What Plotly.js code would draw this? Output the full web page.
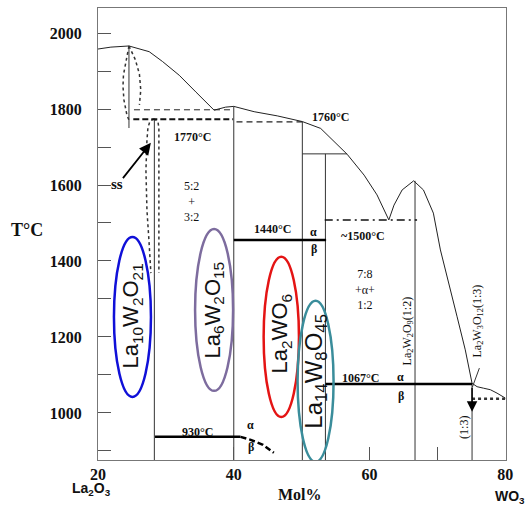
<!DOCTYPE html>
<html>
<head>
<meta charset="utf-8">
<script src="https://cdn.plot.ly/plotly-3.0.1.min.js"></script>
<style>html,body{margin:0;padding:0;background:#fff;}#chart{width:526px;height:509px;}</style>
</head>
<body>
<div id="chart"></div>
<script>
// ---- Data (X = mol% WO3, T = °C) ----
const liqLeftX = [20, 21.9, 24.56, 27.54, 29.51, 31.96, 34.41, 37.1, 38.8, 40, 43, 46.4, 50.1, 52.8, 56.7, 59.2, 61.1, 62.84];
const liqLeftT = [1958, 1963, 1966, 1951, 1925, 1889, 1845, 1797, 1805, 1807, 1793, 1782, 1767, 1749, 1681, 1626, 1574, 1508];
const liqRightX = [62.84, 63.6, 64.8, 66.5, 67.94, 69.4, 70.44, 71.6, 72.9, 74.1, 75.1];
const liqRightT = [1508, 1547, 1587, 1611, 1587, 1526, 1429, 1342, 1253, 1166, 1078];
const tailX = [75.1, 75.84, 76.8, 77.8, 78.78, 79.5, 80.0];
const tailT = [1078, 1069, 1065, 1061, 1052, 1043, 1039];

// dotted lens near 25 mol%
const lensAX = [24.56, 24.1, 23.75, 23.68, 23.82, 24.26, 24.56];
const lensAT = [1966, 1925, 1890, 1860, 1824, 1784, 1771];
const lensA2X = [24.56, 25.5, 26.1, 26.3, 26.1];
const lensA2T = [1966, 1930, 1892, 1850, 1811];
// dotted lens of the ss phase near 28 mol%
const lensBLX = [28.24, 27.65, 27.35, 27.21, 27.06, 27.21, 27.5, 27.79];
const lensBLT = [1774, 1768, 1750, 1718, 1639, 1534, 1455, 1368];
const lensBRX = [28.24, 28.82, 28.97, 28.97, 28.97];
const lensBRT = [1774, 1768, 1750, 1534, 1368];

// vertical phase lines [x, Ttop, Tbottom]
const vertX = [24.56, 28.3, 40, 50.1, 53.5, 66.7, 75.1];
const vertTop = [1966, 1773, 1807, 1767, 1682, 1611, 1078];
const vertBot = [1750, 876, 876, 876, 876, 876, 876];

// thin solid horizontal
const h1682X = [50.1, 56.7];
const h1682T = [1682, 1682];
// dashed lines
const d1800X = [25.3, 39.9];
const d1800T = [1798, 1798];
const d1770X = [25.2, 39.9];
const d1770T = [1773, 1773];
const d1760X = [40.4, 50.1];
const d1760T = [1766, 1766];
const dd1500X = [53.4, 67.0];
const dd1500T = [1508, 1508];
// thick isotherms
const i1440X = [40, 53.6];
const i1440T = [1455, 1455];
const i1067X = [53.5, 75.1];
const i1067T = [1076, 1076];
const i930X = [28.4, 41.0];
const i930T = [937, 937];
const c930X = [41.0, 42.5, 44.3, 45.9];
const c930T = [937, 929, 916, 895];
const dot1037X = [75.1, 80];
const dot1037T = [1037, 1037];
const ptrX = [76.18, 75.15];
const ptrT = [1118, 1068];

// compound ellipses [x0, x1, T0, T1]
const ellNames = ['La<sub>10</sub>W<sub>2</sub>O<sub>21</sub>', 'La<sub>6</sub>W<sub>2</sub>O<sub>15</sub>', 'La<sub>2</sub>WO<sub>6</sub>', 'La<sub>14</sub>W<sub>8</sub>O<sub>45</sub>'];
const ellX0 = [22.35, 34.3, 44.4, 49.4];
const ellX1 = [27.8, 39.9, 49.6, 54.7];
const ellT0 = [1042, 1058, 989, 871];
const ellT1 = [1463, 1484, 1411, 1295];
const ellTextT = [1255, 1270, 1210, 1110];
const ellColors = ['#1010d8', '#7d6c9e', '#e41414', '#3a8d9b'];
const ellFont = [22, 22, 22, 24];

// y tick values / labels
const yTickVals = [900, 1000, 1100, 1200, 1300, 1400, 1500, 1600, 1700, 1800, 1900, 2000];
const yTickText = ['', '1000', '', '1200', '', '1400', '', '1600', '', '1800', '', '2000'];
const xTickVals = [20, 40, 60, 70, 80];
const xTickText = ['20', '40', '60', '', '80'];

// ---- Build traces ----
function ln(x, y, width, dash, color) {
  return {x: x, y: y, type: 'scatter', mode: 'lines', hoverinfo: 'skip', showlegend: false,
          line: {color: color || '#111', width: width, dash: dash || 'solid'}};
}
const traces = [];
traces.push(ln(liqLeftX, liqLeftT, 1, 'solid', '#222'));
traces.push(ln(liqRightX, liqRightT, 1, 'solid', '#222'));
traces.push(ln(tailX, tailT, 1, 'solid', '#222'));
vertX.forEach((x, i) => traces.push(ln([x, x], [vertTop[i], vertBot[i]], 1, 'solid', '#333')));
traces.push(ln(lensAX, lensAT, 1.5, 'dot', '#333'));
traces.push(ln(lensA2X, lensA2T, 1.5, 'dot', '#333'));
traces.push(ln(lensBLX, lensBLT, 1.5, 'dot', '#333'));
traces.push(ln(lensBRX, lensBRT, 1.5, 'dot', '#333'));
traces.push(ln(h1682X, h1682T, 1, 'solid', '#333'));
traces.push(ln(d1800X, d1800T, 1, '6px,4px', '#222'));
traces.push(ln(d1770X, d1770T, 2, '6px,3px', '#111'));
traces.push(ln(d1760X, d1760T, 1.2, '6px,4px', '#222'));
traces.push(ln(dd1500X, dd1500T, 1.6, '8px,4px,2px,4px', '#111'));
traces.push(ln(i1440X, i1440T, 2.5, 'solid', '#000'));
traces.push(ln(i1067X, i1067T, 2.5, 'solid', '#000'));
traces.push(ln(i930X, i930T, 2.5, 'solid', '#000'));
traces.push(ln(c930X, c930T, 2.5, '6px,3px', '#000'));
traces.push(ln(dot1037X, dot1037T, 2.5, 'dot', '#333'));
traces.push(ln(ptrX, ptrT, 1, 'solid', '#333'));

const shapes = ellX0.map((x0, i) => ({
  type: 'circle', xref: 'x', yref: 'y', x0: x0, x1: ellX1[i], y0: ellT0[i], y1: ellT1[i],
  line: {color: ellColors[i], width: 2.5}, fillcolor: 'rgba(0,0,0,0)'
}));

const serif = 'Liberation Serif, Times New Roman, serif';
const sans = 'Liberation Sans, Arial, sans-serif';
function txt(x, y, s, size, opts, bold) {
  return Object.assign({x: x, y: y, xref: 'x', yref: 'y', text: s, showarrow: false,
    xanchor: 'center', yanchor: 'middle',
    font: {family: serif, size: size || 12, color: '#111', weight: bold ? 'bold' : 'normal'}}, opts || {});
}
function ptxt(x, y, s, fam, size) {
  return {x: x, y: y, xref: 'paper', yref: 'paper', text: s, showarrow: false,
          xanchor: 'center', yanchor: 'middle',
          font: {family: fam, size: size, color: '#111', weight: 'bold'}};
}
const annotations = [
  txt(33.97, 1726, '1770°C', 12, null, true),
  txt(33.8, 1557, '5:2<br>+<br>3:2', 12),
  txt(54.26, 1779, '1760°C', 12, null, true),
  txt(45.7, 1484, '1440°C', 12, null, true),
  txt(51.76, 1476, 'α', 12, null, true), txt(51.76, 1432, 'β', 12, null, true),
  txt(59.1, 1466, '~1500°C', 12, null, true),
  txt(59.4, 1326, '7:8<br>+α+<br>1:2', 12),
  txt(58.7, 1092, '1067°C', 12, null, true),
  txt(64.56, 1095, 'α', 12, null, true), txt(64.56, 1045, 'β', 12, null, true),
  txt(34.7, 950, '930°C', 12, null, true),
  txt(42.5, 968, 'α', 12, null, true), txt(42.5, 911, 'β', 12, null, true),
  txt(22.8, 1603, 'ss', 15, null, true),
  txt(65.6, 1216, 'La<sub>2</sub>W<sub>2</sub>O<sub>9</sub>(1:2)', 12, {textangle: -90}),
  txt(75.9, 1242, 'La<sub>2</sub>W<sub>3</sub>O<sub>12</sub>(1:3)', 12, {textangle: -90}),
  txt(73.8, 961, '(1:3)', 12, {textangle: -90}),
  // arrows
  {x: 27.79, y: 1711, ax: 23.5, ay: 1614, xref: 'x', yref: 'y', axref: 'x', ayref: 'y', text: '',
   showarrow: true, arrowhead: 2, arrowsize: 1.3, arrowwidth: 1.8, arrowcolor: '#000'},
  {x: 75.1, y: 1003, ax: 75.1, ay: 1070, xref: 'x', yref: 'y', axref: 'x', ayref: 'y', text: '',
   showarrow: true, arrowhead: 2, arrowsize: 1.4, arrowwidth: 1.5, arrowcolor: '#000'},
  // axis titles
  ptxt(-0.174, 0.509, 'T°C', serif, 18),
  ptxt(-0.017, -0.064, 'La<sub>2</sub>O<sub>3</sub>', sans, 14),
  ptxt(0.495, -0.077, 'Mol%', serif, 16),
  ptxt(1.01, -0.082, 'WO<sub>3</sub>', sans, 14)
];
ellNames.forEach((n, i) => {
  annotations.push(txt((ellX0[i] + ellX1[i]) / 2, ellTextT[i], n, ellFont[i],
    {textangle: -90, font: {family: sans, size: ellFont[i], color: '#111'}}));
});

const layout = {
  width: 526, height: 509,
  margin: {l: 98, r: 20, t: 8, b: 49},
  paper_bgcolor: '#fff', plot_bgcolor: '#fff',
  showlegend: false,
  xaxis: {range: [20, 80.1], tickvals: xTickVals, ticktext: xTickText, ticks: 'inside', ticklen: 13,
          tickcolor: '#555', tickwidth: 1, showline: true, mirror: true, linecolor: '#777', linewidth: 1,
          showgrid: false, zeroline: false, ticklabelstandoff: 0,
          tickfont: {family: serif, size: 16, color: '#111', weight: 'bold'}},
  yaxis: {range: [876, 2066], tickvals: yTickVals, ticktext: yTickText, ticks: 'inside', ticklen: 13,
          tickcolor: '#555', tickwidth: 1, showline: true, mirror: true, linecolor: '#777', linewidth: 1,
          showgrid: false, zeroline: false, ticklabelstandoff: 12,
          tickfont: {family: serif, size: 16, color: '#111', weight: 'bold'}},
  shapes: shapes,
  annotations: annotations
};
Plotly.newPlot('chart', traces, layout, {staticPlot: true, displayModeBar: false});
</script>
</body>
</html>
